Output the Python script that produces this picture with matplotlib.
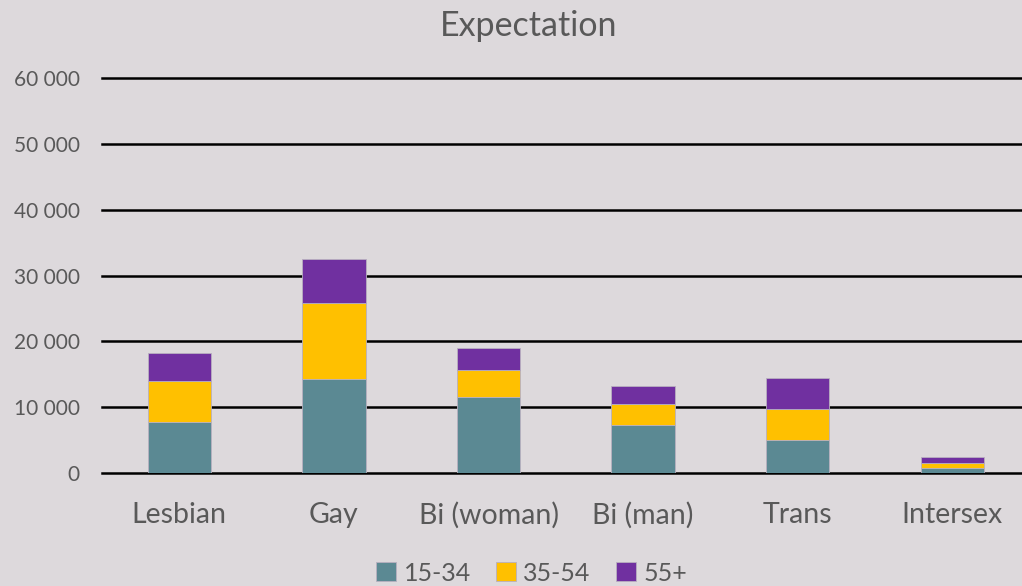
import numpy as np
import matplotlib
matplotlib.use("Agg")
import matplotlib.pyplot as plt
from matplotlib.ticker import FuncFormatter

# données
categories = ["Lesbian", "Gay", "Bi (woman)", "Bi (man)", "Trans", "Intersex"]
age_groups = ["15-34", "35-54", "55+"]
v_15_34 = [7750, 14250, 11500, 7300, 5000, 750]
v_35_54 = [6200, 11600, 4150, 3200, 4650, 800]
v_55p = [4250, 6650, 3400, 2750, 4750, 930]
colors = ["#5B8993", "#FFC000", "#7030A0"]

bg = "#DDD9DC"
txt = "#595959"
plt.rcParams["font.family"] = ["Lato", "DejaVu Sans"]

fig = plt.figure(figsize=(10.22, 5.86), dpi=100, facecolor=bg)
ax = fig.add_axes([102 / 1022, 1 - 473 / 586, 1 - 102 / 1022, (473 - 78) / 586])
ax.set_facecolor(bg)

x = np.arange(len(categories))
bottom = np.zeros(len(categories))
for vals, lab, c in zip([v_15_34, v_35_54, v_55p], age_groups, colors):
    ax.bar(x, vals, 0.41, bottom=bottom, color=c, label=lab,
           edgecolor="#B8B0C0", linewidth=0.6, zorder=3)
    bottom += np.array(vals)

ax.set_ylim(0, 60000)
ax.set_xlim(-0.5, 5.45)
ax.set_yticks(range(0, 60001, 10000))
ax.yaxis.set_major_formatter(FuncFormatter(lambda v, p: f"{int(v):,}".replace(",", " ")))
ax.grid(axis="y", color="black", linewidth=1.8, zorder=0)
for gl in ax.get_ygridlines():
    gl.set_clip_on(False)
ax.set_axisbelow(True)
for s in ax.spines.values():
    s.set_visible(False)
ax.tick_params(axis="y", length=0, pad=16, labelsize=15, labelcolor=txt)
ax.tick_params(axis="x", length=0, pad=21, labelsize=20.5, labelcolor=txt)
ax.set_xticks(x)
ax.set_xticklabels(categories)

fig.text(0.517, 0.955, "Expectation", ha="center", va="center", fontsize=24.5, color=txt)
fig.legend(loc="center", bbox_to_anchor=(0.52, 0.022), ncol=3, frameon=False,
           fontsize=18, labelcolor=txt, handlelength=0.8, handleheight=0.8,
           handletextpad=0.3, columnspacing=1.0)

fig.savefig("out.png", dpi=100, facecolor=bg)
